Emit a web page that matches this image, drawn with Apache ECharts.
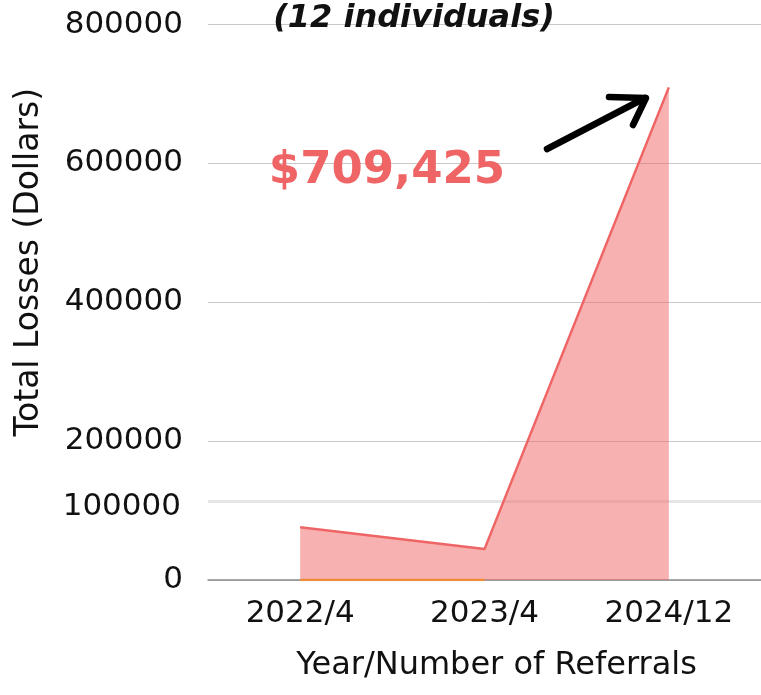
<!DOCTYPE html>
<html>
<head>
<meta charset="utf-8">
<script src="https://cdn.jsdelivr.net/npm/echarts@6/dist/echarts.min.js"></script>
<style>
html,body{margin:0;padding:0;background:#fff;}
#chart{width:761px;height:695px;}
</style>
</head>
<body>
<div id="chart"></div>
<script>
var categories = ['2022/4', '2023/4', '2024/12'];
var lossValues = [76000, 44500, 709425];
var baselineValues = [0, 0, '-'];
var yTicks = [0, 200000, 400000, 600000, 800000];
var refLineValue = 114000;
var refLineLabel = '100000';
var titleText = '(12 individuals)';
var calloutText = '$709,425';

var FONT = 'DejaVu Sans';
var chart = echarts.init(document.getElementById('chart'), null, {renderer: 'canvas'});
var option = {
  animation: false,
  backgroundColor: '#fff',
  grid: {left: 208, right: -2, top: 24.5, bottom: 115, containLabel: false},
  xAxis: {
    type: 'category',
    data: categories,
    boundaryGap: true,
    axisLine: {show: true, lineStyle: {color: '#8c8c8c', width: 1.5}},
    axisTick: {show: false},
    axisLabel: {color: '#111', fontFamily: FONT, fontSize: 31, margin: 18},
    name: 'Year/Number of Referrals',
    nameLocation: 'middle',
    nameGap: 70,
    nameTextStyle: {color: '#111', fontFamily: FONT, fontSize: 32, padding: [0, 0, 0, 24]}
  },
  yAxis: {
    type: 'value',
    min: 0,
    max: 800000,
    interval: 200000,
    axisLine: {show: false},
    axisTick: {show: false},
    axisLabel: {
      color: '#111', fontFamily: FONT, fontSize: 31, margin: 25,
      formatter: function (v) { return yTicks.indexOf(v) >= 0 ? String(v) : ''; }
    },
    splitLine: {show: true, lineStyle: {color: '#c8c8c8', width: 1}},
    name: 'Total Losses (Dollars)',
    nameLocation: 'middle',
    nameRotate: 90,
    nameGap: 162,
    nameTextStyle: {color: '#111', fontFamily: FONT, fontSize: 33, padding: [0, 0, 0, 80]}
  },
  series: [
    {
      type: 'line',
      data: lossValues,
      symbol: 'none',
      lineStyle: {color: '#ef6464', width: 2.5},
      areaStyle: {color: '#ef6464', opacity: 0.5},
      z: 3,
      markLine: {
        silent: true,
        symbol: 'none',
        lineStyle: {color: '#e6e6e6', width: 3, type: 'solid'},
        label: {
          show: true, position: 'start',
          formatter: '{v|' + refLineLabel + '}',
          distance: 27,
          rich: {v: {color: '#111', fontFamily: FONT, fontSize: 31, padding: [12, 0, 0, 0]}}
        },
        data: [{yAxis: refLineValue}],
        z: 1
      }
    },
    {
      type: 'line',
      data: baselineValues,
      symbol: 'none',
      lineStyle: {color: '#ef8c3c', width: 2.5},
      z: 4
    }
  ],
  graphic: [
    {
      type: 'text', z: 10,
      x: 414, y: 19,
      style: {
        text: titleText,
        font: 'italic bold 32px "DejaVu Sans"', fill: '#111',
        textAlign: 'center', textVerticalAlign: 'middle'
      }
    },
    {
      type: 'text', z: 10,
      x: 387, y: 171,
      style: {
        text: calloutText,
        font: 'bold 45px "DejaVu Sans"', fill: '#ef6464',
        textAlign: 'center', textVerticalAlign: 'middle'
      }
    },
    {
      type: 'polyline', z: 10,
      shape: {points: [[547, 149], [645, 98]]},
      style: {stroke: '#000', lineWidth: 6.5, lineCap: 'round', fill: null}
    },
    {
      type: 'polyline', z: 10,
      shape: {points: [[609, 97], [646, 98], [633, 125]]},
      style: {stroke: '#000', lineWidth: 6.5, lineCap: 'round', lineJoin: 'round', fill: null}
    }
  ]
};
chart.setOption(option);
</script>
</body>
</html>
